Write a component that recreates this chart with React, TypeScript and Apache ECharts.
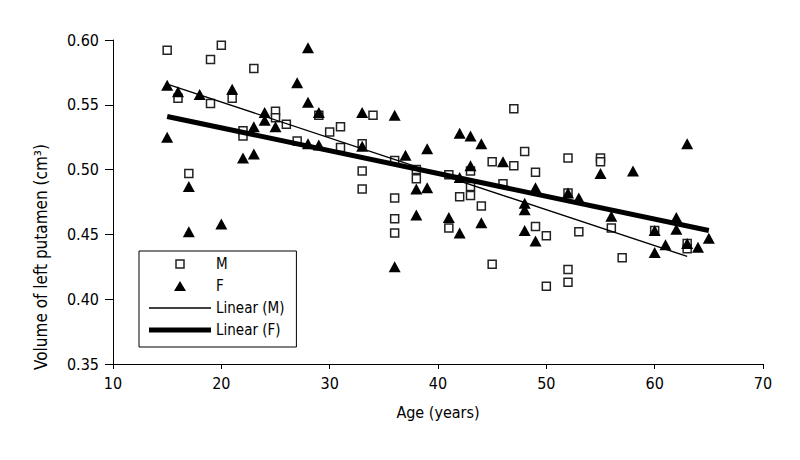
import React, { useEffect, useRef } from "react";
import * as echarts from "echarts";

// Scatter data: [age, volume]
const maleData: number[][] = [
  [15, 0.592], [19, 0.585], [20, 0.596], [23, 0.578], [16, 0.555], [19, 0.551],
  [21, 0.555], [25, 0.545], [25, 0.540], [26, 0.535], [22, 0.530], [22, 0.526],
  [27, 0.522], [29, 0.542], [30, 0.529], [17, 0.497],
  [34, 0.542], [31, 0.533], [31, 0.517], [33, 0.520], [33, 0.499], [33, 0.485],
  [36, 0.507], [36, 0.478], [36, 0.462], [36, 0.451], [38, 0.493], [38, 0.500],
  [41, 0.496], [41, 0.455], [42, 0.479], [43, 0.499], [43, 0.487], [43, 0.480],
  [44, 0.472], [45, 0.506], [45, 0.427], [46, 0.489], [47, 0.547], [47, 0.503],
  [48, 0.514], [49, 0.498], [49, 0.456], [50, 0.449],
  [52, 0.509], [55, 0.509], [55, 0.506], [52, 0.482], [53, 0.452], [56, 0.455],
  [60, 0.453], [57, 0.432], [52, 0.423], [52, 0.413], [50, 0.410], [63, 0.443],
  [63, 0.439],
];

const femaleData: number[][] = [
  [28, 0.594], [15, 0.565], [16, 0.560], [18, 0.558], [21, 0.562], [27, 0.567],
  [28, 0.552], [29, 0.544], [24, 0.544], [24, 0.538], [25, 0.533], [23, 0.533],
  [15, 0.525], [22, 0.509], [23, 0.512], [28, 0.520], [29, 0.519], [17, 0.487],
  [17, 0.452], [20, 0.458],
  [33, 0.544], [36, 0.542], [33, 0.518], [37, 0.511], [39, 0.516], [42, 0.528],
  [43, 0.526], [44, 0.520], [46, 0.506], [43, 0.503], [38, 0.485], [39, 0.486],
  [38, 0.465], [41, 0.463], [42, 0.451], [44, 0.459], [36, 0.425], [42, 0.494],
  [49, 0.486], [48, 0.474], [48, 0.469], [48, 0.453], [49, 0.445],
  [63, 0.520], [55, 0.497], [58, 0.499], [52, 0.482], [53, 0.478], [56, 0.464],
  [62, 0.463], [62, 0.454], [60, 0.453], [60, 0.436], [61, 0.442], [63, 0.443],
  [64, 0.440], [65, 0.447],
];

// Trend line end points
const trendMale: number[][] = [[15, 0.566], [63, 0.433]];
const trendFemale: number[][] = [[15, 0.541], [65, 0.453]];

const seriesNames = ["M", "F", "Linear (M)", "Linear (F)"];
const xTitle = "Age (years)";
const yTitle = "Volume of left putamen (cm³)";

const FONT = '"DejaVu Sans Condensed", "Liberation Sans Narrow", sans-serif';

export default function App() {
  const ref = useRef<HTMLDivElement>(null);

  useEffect(() => {
    if (!ref.current) return;
    const chart = echarts.init(ref.current, undefined, { renderer: "svg" });
    chart.setOption({
      animation: false,
      backgroundColor: "#fff",
      textStyle: { fontFamily: FONT },
      grid: { left: 113, right: 37, top: 40, bottom: 96, containLabel: false },
      legend: {
        orient: "vertical",
        left: 139,
        top: 251,
        padding: [4, 12, 8, 10],
        itemWidth: 62,
        itemHeight: 12,
        itemGap: 4,
        borderColor: "#000",
        borderWidth: 1,
        textStyle: { fontSize: 15, color: "#000", fontFamily: FONT, lineHeight: 18 },
        data: [
          {
            name: seriesNames[0],
            icon: "path://M0,0M12,12M2,2h8v8h-8z",
            itemStyle: { color: "#fff", borderColor: "#222", borderWidth: 1.5 },
          },
          {
            name: seriesNames[1],
            icon: "path://M0,0M12,12M6,1L12,11L0,11Z",
            itemStyle: { color: "#000", borderWidth: 0 },
          },
          {
            name: seriesNames[2],
            icon: "path://M0,0h62v1.3h-62z",
            itemStyle: { color: "#000", borderWidth: 0 },
          },
          {
            name: seriesNames[3],
            icon: "path://M0,0h62v5h-62z",
            itemStyle: { color: "#000", borderWidth: 0 },
          },
        ],
      },
      xAxis: {
        type: "value",
        min: 10,
        max: 70,
        interval: 10,
        name: xTitle,
        nameLocation: "middle",
        nameGap: 40,
        nameTextStyle: { fontSize: 16, color: "#000", fontFamily: FONT },
        axisLine: { show: true, onZero: false, lineStyle: { color: "#000", width: 1 } },
        axisTick: { show: true, inside: false, length: 5, lineStyle: { color: "#000" } },
        axisLabel: { fontSize: 16, color: "#000", margin: 11, fontFamily: FONT },
        splitLine: { show: false },
      },
      yAxis: {
        type: "value",
        min: 0.35,
        max: 0.6,
        interval: 0.05,
        name: yTitle,
        nameLocation: "middle",
        nameGap: 64,
        nameTextStyle: { fontSize: 17, color: "#000", fontFamily: FONT, padding: [0, 110, 0, 0] },
        axisLine: { show: true, onZero: false, lineStyle: { color: "#000", width: 1 } },
        axisTick: { show: true, inside: false, length: 8, lineStyle: { color: "#000" } },
        axisLabel: {
          fontSize: 16,
          color: "#000",
          margin: 14,
          fontFamily: FONT,
          formatter: (v: number) => v.toFixed(2),
        },
        splitLine: { show: false },
      },
      series: [
        {
          name: seriesNames[0],
          type: "scatter",
          data: maleData,
          symbol: "rect",
          symbolSize: 8,
          itemStyle: { color: "#fff", borderColor: "#222", borderWidth: 1.5, opacity: 1 },
          z: 2,
        },
        {
          name: seriesNames[1],
          type: "scatter",
          data: femaleData,
          symbol: "triangle",
          symbolSize: [12, 11],
          itemStyle: { color: "#000", opacity: 1 },
          z: 3,
        },
        {
          name: seriesNames[2],
          type: "line",
          data: trendMale,
          symbol: "none",
          lineStyle: { color: "#000", width: 1.3 },
          itemStyle: { color: "#000" },
          z: 4,
        },
        {
          name: seriesNames[3],
          type: "line",
          data: trendFemale,
          symbol: "none",
          lineStyle: { color: "#000", width: 5 },
          itemStyle: { color: "#000" },
          z: 5,
        },
      ],
    });
    return () => chart.dispose();
  }, []);

  return (
    <div
      ref={ref}
      style={{ position: "fixed", left: 0, top: 0, width: 800, height: 460, background: "#fff" }}
    />
  );
}
